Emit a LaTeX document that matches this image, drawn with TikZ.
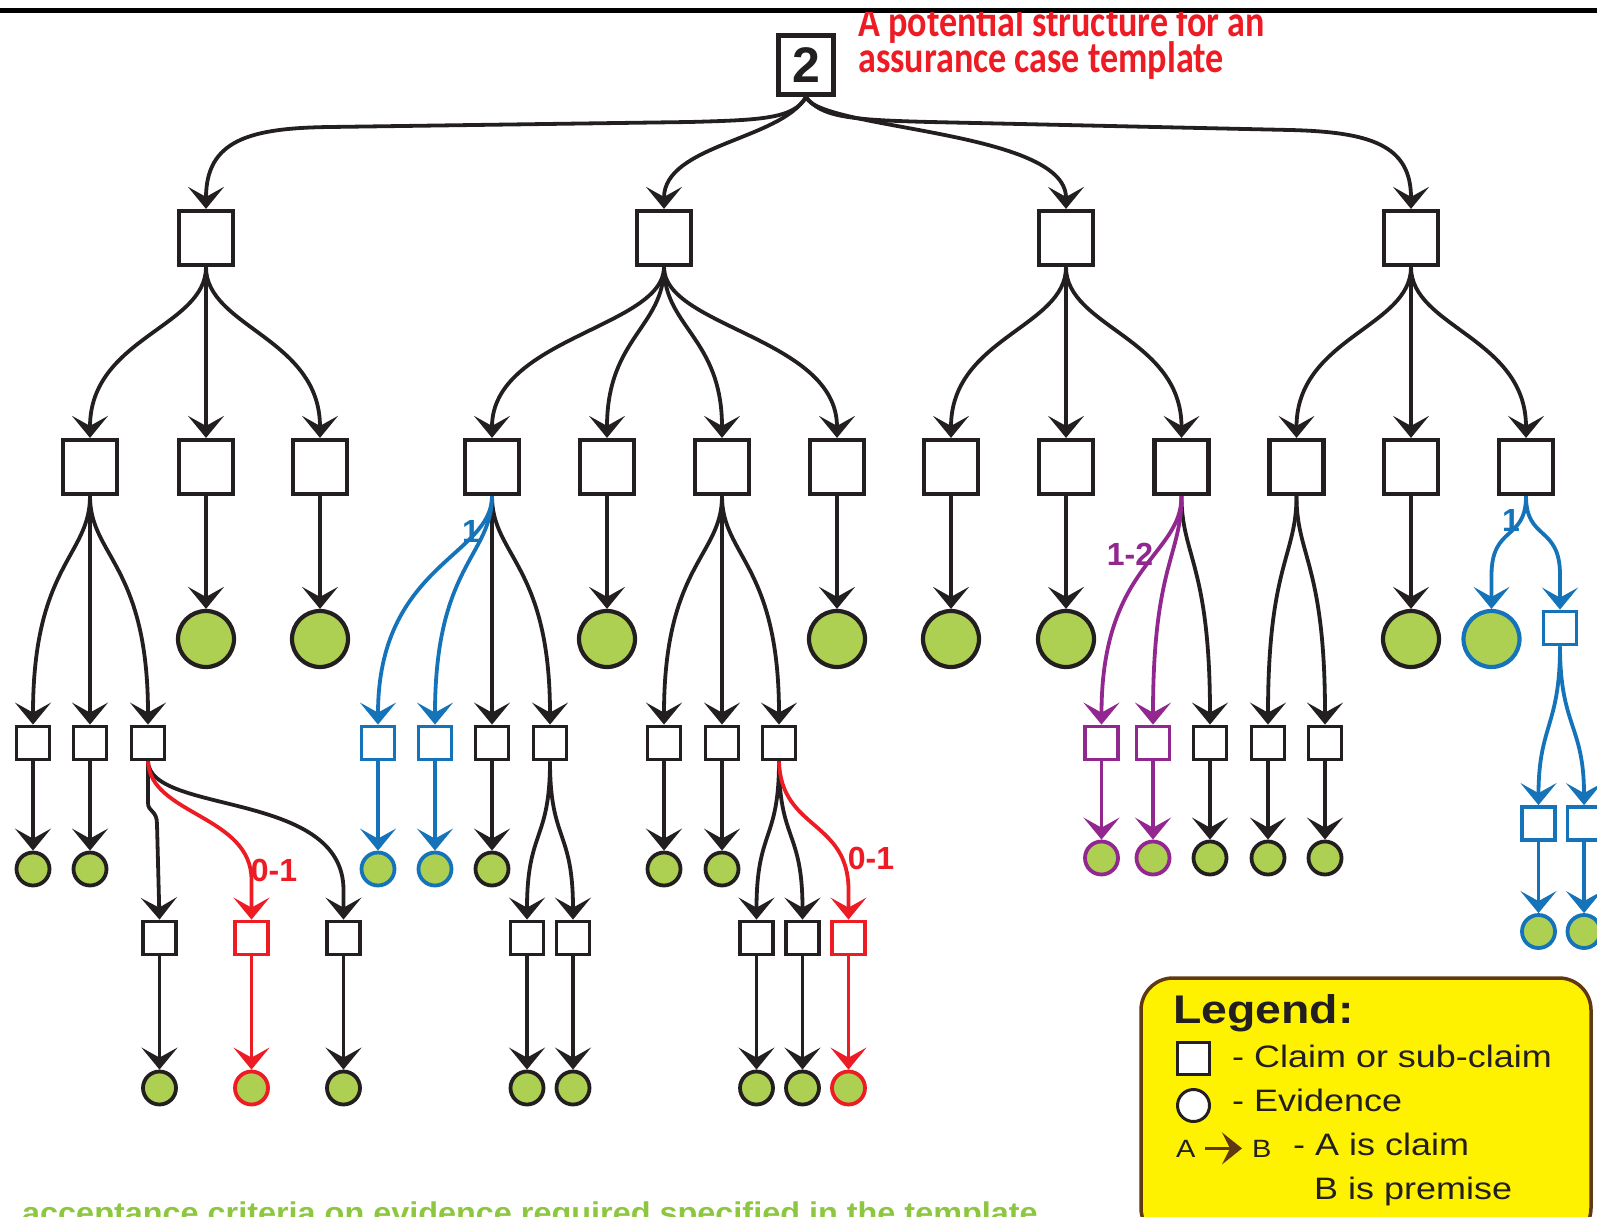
\documentclass[tikz,border=0pt]{standalone}
\usepackage{fontspec}
\usetikzlibrary{arrows.meta}
\newfontfamily\titlefont[FakeStretch=0.82]{Carlito}
\newfontfamily\legfont[FakeStretch=1.16]{Liberation Sans}
\newfontfamily\labfont{Liberation Sans}
\newfontfamily\botfont[FakeStretch=1.08]{Liberation Sans}
\definecolor{ink}{RGB}{35,31,32}
\definecolor{evgreen}{RGB}{174,208,82}
\definecolor{cblue}{RGB}{21,115,186}
\definecolor{cred}{RGB}{237,28,36}
\definecolor{cpurple}{RGB}{146,39,143}
\definecolor{legyellow}{RGB}{255,242,0}
\definecolor{legbrown}{RGB}{96,57,19}
\definecolor{txtgreen}{RGB}{141,198,63}
\newcommand\myS[5]{\draw[arr,draw=#1] (#2.south) .. controls +(0,#4) and +(0,-#5) .. (#3.north);}
\newcommand\myL[3]{\draw[arr,draw=#1] (#2.south) -- (#3.north);}
\begin{document}
\begin{tikzpicture}[x=1pt,y=-1pt,
  arr/.style={draw=ink, line width=3.8pt, -{Stealth[length=22pt,width=36pt,inset=10pt]}},
  bx/.style={draw=ink, fill=white, line width=4.2pt, minimum size=54pt, inner sep=0pt},
  sbx/.style={draw=ink, fill=white, line width=3.8pt, minimum size=33pt, inner sep=0pt},
  ev/.style={circle, draw=ink, fill=evgreen, line width=4.2pt, minimum size=56pt, inner sep=0pt},
  sev/.style={circle, draw=ink, fill=evgreen, line width=3.8pt, minimum size=33pt, inner sep=0pt},
  lab/.style={inner sep=0pt, font=\labfont\bfseries\fontsize{32}{32}\selectfont},
  legtxt/.style={anchor=base west, inner sep=0pt, text=ink, font=\legfont\fontsize{31}{31}\selectfont}
]
\useasboundingbox (0,0) rectangle (1597,1217);
\draw[line width=5pt] (0,10.5) -- (1597,10.5);

% title
\begin{scope}
\clip (0,13) rectangle (1597,1217);
\node[anchor=base west, inner sep=0pt, text=cred, font=\titlefont\bfseries\fontsize{44}{44}\selectfont] (t1) at (858,37) {A potential structure for an};
\end{scope}
\node[anchor=base west, inner sep=0pt, text=cred, font=\titlefont\bfseries\fontsize{44}{44}\selectfont] (t2) at (858,73) {assurance case template};

% root
\node[bx, line width=5pt, minimum width=55pt, minimum height=59pt, font=\labfont\bfseries\fontsize{50}{50}\selectfont, text=ink] (r) at (806,65) {2};

% level 1
\node[bx] (A1) at (206,238) {};
\node[bx] (B1) at (664,238) {};
\node[bx] (C1) at (1066,238) {};
\node[bx] (D1) at (1411,238) {};

% level 2
\foreach \n/\x in {a/90,b/206,c/320,d/492,e/607,f/722,g/837,h/951,i/1066,j/1181.5,k/1296.5,l/1411,m/1526}
  {\node[bx] (\n) at (\x,467) {};}

% level 3 evidence
\foreach \n/\x in {eb/206,ec/320,ee/607,eg/837,eh/951,ei/1066,el/1411}
  {\node[ev] (\n) at (\x,639) {};}
\node[ev, draw=cblue] (em) at (1491.5,639) {};
\node[sbx, draw=cblue] (bm) at (1560,628) {};

% level 4 boxes
\foreach \n/\x in {a1/33,a2/90,a3/148,d3/492,d4/550,f1/664,f2/722,f3/779,j3/1210,k1/1268,k2/1325}
  {\node[sbx] (\n) at (\x,743) {};}
\node[sbx, draw=cblue] (d1) at (378,743) {};
\node[sbx, draw=cblue] (d2) at (435,743) {};
\node[sbx, draw=cpurple] (j1) at (1101.5,743) {};
\node[sbx, draw=cpurple] (j2) at (1153,743) {};

% level 4 evidence
\foreach \n/\x in {ea1/33,ea2/90,ed3/492,ef1/664,ef2/722}
  {\node[sev] (\n) at (\x,869) {};}
\node[sev, draw=cblue] (ed1) at (378,869) {};
\node[sev, draw=cblue] (ed2) at (435,869) {};
\node[sev, draw=cpurple] (ej1) at (1101.5,858) {};
\node[sev, draw=cpurple] (ej2) at (1153,858) {};
\foreach \n/\x in {ej3/1210,ek1/1268,ek2/1325}
  {\node[sev] (\n) at (\x,858) {};}

% level 5 boxes
\foreach \n/\x in {a31/159.5,a33/343.5,d41/527,d42/573,f31/756.5,f32/802.5}
  {\node[sbx] (\n) at (\x,938) {};}
\node[sbx, draw=cred] (a32) at (251.5,938) {};
\node[sbx, draw=cred] (f33) at (848.5,938) {};

% level 5 evidence
\foreach \n/\x in {ea31/159.5,ea33/343.5,ed41/527,ed42/573,ef31/756.5,ef32/802.5}
  {\node[sev] (\n) at (\x,1088) {};}
\node[sev, draw=cred] (ea32) at (251.5,1088) {};
\node[sev, draw=cred] (ef33) at (848.5,1088) {};

% right blue column
\node[sbx, draw=cblue] (bm1) at (1538.5,823.5) {};
\node[sbx, draw=cblue] (bm2) at (1584,823.5) {};
\node[sev, draw=cblue] (ebm1) at (1538.5,931.5) {};
\node[sev, draw=cblue] (ebm2) at (1584,931.5) {};

% root fan
\draw[arr] (r.south) .. controls +(-12,22) and +(70,-2) .. (690,122) -- (330,127) .. controls +(-80,1) and +(0,-69) .. (A1.north);
\draw[arr] (r.south) .. controls +(-26,43) and +(0,-64) .. (B1.north);
\draw[arr] (r.south) .. controls +(14,33) and +(0,-79) .. (C1.north);
\draw[arr] (r.south) .. controls +(15,20) and +(-80,-2) .. (930,122) -- (1290,130) .. controls +(80,2) and +(0,-64) .. (D1.north);

% level 1 -> level 2
\myS{ink}{A1}{a}{60}{100}
\myL{ink}{A1}{b}
\myS{ink}{A1}{c}{60}{100}
\myS{ink}{B1}{d}{60}{100}
\myS{ink}{B1}{e}{60}{100}
\myS{ink}{B1}{f}{60}{100}
\myS{ink}{B1}{g}{60}{100}
\myS{ink}{C1}{h}{60}{100}
\myL{ink}{C1}{i}
\myS{ink}{C1}{j}{60}{100}
\myS{ink}{D1}{k}{60}{100}
\myL{ink}{D1}{l}
\myS{ink}{D1}{m}{60}{100}

% level 2 -> level 3 evidence
\foreach \s/\t in {b/eb,c/ec,e/ee,g/eg,h/eh,i/ei,l/el}
  {\myL{ink}{\s}{\t}}

% level 2 -> level 4
\myS{ink}{a}{a1}{60}{160}
\myL{ink}{a}{a2}
\myS{ink}{a}{a3}{60}{160}
\myL{ink}{d}{d3}
\myS{ink}{d}{d4}{60}{160}
\myS{cblue}{d}{d1}{60}{160}
\myS{cblue}{d}{d2}{60}{160}
\myS{ink}{f}{f1}{60}{160}
\myL{ink}{f}{f2}
\myS{ink}{f}{f3}{60}{160}
\myS{ink}{j}{j3}{60}{160}
\myS{cpurple}{j}{j1}{60}{160}
\myS{cpurple}{j}{j2}{60}{160}
\myS{ink}{k}{k1}{60}{160}
\myS{ink}{k}{k2}{60}{160}
\draw[arr,draw=cblue] (m.south) .. controls +(0,45) and +(0,-50) .. (1491.5,575) -- (em.north);
\draw[arr,draw=cblue] (m.south) .. controls +(0,45) and +(0,-50) .. (1560,575) -- (bm.north);

% level 4 -> evidence
\foreach \s/\t in {a1/ea1,a2/ea2,d3/ed3,f1/ef1,f2/ef2,j3/ej3,k1/ek1,k2/ek2}
  {\myL{ink}{\s}{\t}}
\myL{cblue}{d1}{ed1}
\myL{cblue}{d2}{ed2}
\myL{cpurple}{j1}{ej1}
\myL{cpurple}{j2}{ej2}

% level 4 -> level 5
\draw[arr] (a3.south) -- (148,803) .. controls (148,812) and (157,810) .. (157,824) -- (a31.north);
\draw[arr] (a3.south) .. controls (150,815) and (343.5,790) .. (343.5,890) -- (a33.north);
\draw[arr,draw=cred] (a3.south) .. controls (150,815) and (251.5,815) .. (251.5,880) -- (a32.north);
\myS{ink}{d4}{d41}{80}{90}
\myS{ink}{d4}{d42}{80}{90}
\myS{ink}{f3}{f31}{80}{90}
\myS{ink}{f3}{f32}{80}{90}
\draw[arr,draw=cred] (f3.south) .. controls (781,830) and (848.5,820) .. (848.5,890) -- (f33.north);

% level 5 -> evidence
\foreach \s/\t in {a31/ea31,a33/ea33,d41/ed41,d42/ed42,f31/ef31,f32/ef32}
  {\myL{ink}{\s}{\t}}
\myL{cred}{a32}{ea32}
\myL{cred}{f33}{ef33}

% right blue column
\myS{cblue}{bm}{bm1}{80}{80}
\myS{cblue}{bm}{bm2}{80}{80}
\myL{cblue}{bm1}{ebm1}
\myL{cblue}{bm2}{ebm2}

% multiplicity labels
\node[lab, text=cblue] (l1) at (471,531) {1};
\node[lab, text=cpurple] (l12) at (1130,554) {1-2};
\node[lab, text=cred] (l01a) at (274,870) {0-1};
\node[lab, text=cred] (l01c) at (871,858) {0-1};
\node[lab, text=cblue] (l1b) at (1511,520) {1};

% legend
\draw[draw=legbrown, fill=legyellow, line width=3.5pt, rounded corners=32pt] (1141,978) rectangle (1591,1240);
\node[anchor=base west, inner sep=0pt, text=ink, font=\legfont\bfseries\fontsize{40}{40}\selectfont] (lg) at (1173,1023) {Legend:};
\node[draw=ink, fill=white, line width=3pt, minimum size=32pt, inner sep=0pt] (lgbox) at (1193.5,1058.5) {};
\node[legtxt] (lgt1) at (1232,1067) {- Claim or sub-claim};
\node[circle, draw=ink, fill=white, line width=3pt, minimum size=32pt, inner sep=0pt] (lgcirc) at (1193.5,1105.5) {};
\node[legtxt] (lgt2) at (1232,1111) {- Evidence};
\node[anchor=base west, inner sep=0pt, text=ink, font=\legfont\fontsize{25}{25}\selectfont] (lgA) at (1176,1157) {A};
\node[anchor=base west, inner sep=0pt, text=ink, font=\legfont\fontsize{25}{25}\selectfont] (lgB) at (1252,1157) {B};
\draw[draw=legbrown, line width=3.5pt, -{Stealth[length=20pt,width=32pt,inset=8pt]}, shorten <=9pt, shorten >=10pt] (lgA.east) -- (lgB.west);
\node[legtxt] (lgt3) at (1293,1155) {- A is claim};
\node[legtxt] (lgt4) at (1314,1199) {B is premise};

% bottom note
\node[anchor=base west, inner sep=0pt, text=txtgreen, font=\botfont\bfseries\fontsize{30}{30}\selectfont] (bt) at (22,1223) {acceptance criteria on evidence required specified in the template};
\end{tikzpicture}
\end{document}
